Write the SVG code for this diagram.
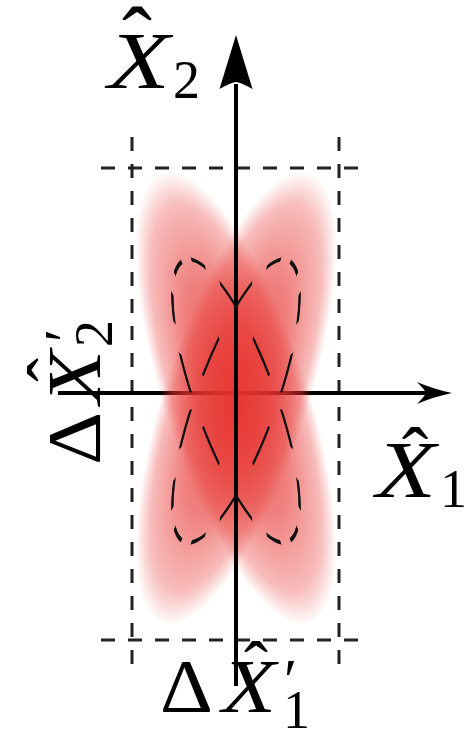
<svg xmlns="http://www.w3.org/2000/svg" width="466" height="735" viewBox="0 0 466 735">
<defs>
<style>
.ax{stroke:#000;stroke-width:4;fill:none}
.axh{fill:#000;stroke:none}
.box{stroke:#222;stroke-width:3;fill:none;stroke-dasharray:14 13}
.lbl{font-family:"Liberation Serif","DejaVu Serif",serif;fill:#000}
.it{font-style:italic}
.dl{fill:none;stroke:#111}
</style>
<radialGradient id="redg" cx="0.5" cy="0.5" r="0.5">
<stop offset="0" stop-color="#e6302c" stop-opacity="0.82"/>
<stop offset="0.5" stop-color="#e6302c" stop-opacity="0.62"/>
<stop offset="0.85" stop-color="#e6302c" stop-opacity="0.32"/>
<stop offset="1" stop-color="#e6302c" stop-opacity="0"/>
</radialGradient>
<mask id="dm" maskUnits="userSpaceOnUse" x="0" y="0" width="466" height="735">
<circle r="10" transform="translate(236,401) rotate(-20) scale(4,15)" fill="none" stroke="#fff" stroke-width="1.4" stroke-dasharray="2.793 2.443" stroke-dashoffset="3.665"/>
</mask>
</defs>
<rect width="466" height="735" fill="#fff"/>
<g id="box">
<line class="box" x1="132" y1="137" x2="132" y2="667"/>
<line class="box" x1="339" y1="137" x2="339" y2="667"/>
<line class="box" x1="101" y1="168" x2="369" y2="168"/>
<line class="box" x1="101" y1="640" x2="369" y2="640"/>
</g>
<g id="connectors">
<g id="axis-x1">
<line class="ax" x1="58" y1="393" x2="428" y2="393"/>
<path class="axh" d="M452,393 Q433,389 417,382 Q425,390 426,393 Q425,396 417,404 Q433,397 452,393 Z"/>
</g>
</g>
<g id="state">
<ellipse cx="0" cy="0" rx="72" ry="238" transform="translate(236,398) rotate(-18)" fill="url(#redg)"/>
<ellipse cx="0" cy="0" rx="72" ry="238" transform="translate(236,398) rotate(18)" fill="url(#redg)"/>
</g>
<g id="axis-x2">
<line class="ax" x1="236" y1="686" x2="236" y2="84"/>
<path class="axh" d="M236,35 L252.5,89 Q240,82 236,82 Q232,82 219.5,89 Z"/>
</g>
<g id="dashed-ellipses">
<g id="de1" mask="url(#dm)">
<ellipse class="dl" cx="0" cy="0" rx="40" ry="150" stroke-width="2.2" transform="translate(236,401) rotate(-20)"/>
<circle class="dl" r="10" stroke-width="0.3" transform="translate(236,401) rotate(-20) scale(4,15)"/>
</g>
<use href="#de1" transform="matrix(-1 0 0 1 472 0)"/>
</g>
<g id="label-x2">
<text class="lbl it" x="108" y="88" font-size="80" textLength="62" lengthAdjust="spacingAndGlyphs">X</text>
<text class="lbl" x="137" y="70" font-size="90" text-anchor="middle">ˆ</text>
<text class="lbl" x="173" y="98" font-size="54">2</text>
</g>
<g id="label-x1">
<text class="lbl it" x="376" y="497" font-size="80" textLength="60" lengthAdjust="spacingAndGlyphs">X</text>
<text class="lbl" x="415" y="483" font-size="80" text-anchor="middle">ˆ</text>
<text class="lbl" x="440" y="507" font-size="54">1</text>
</g>
<g id="label-dx1">
<text class="lbl" x="160" y="712" font-size="76" textLength="53" lengthAdjust="spacingAndGlyphs">Δ</text>
<text class="lbl it" x="222" y="712" font-size="76" textLength="54" lengthAdjust="spacingAndGlyphs">X</text>
<text class="lbl" x="256" y="691" font-size="72" text-anchor="middle">ˆ</text>
<text class="lbl" x="284" y="700" font-size="60">′</text>
<text class="lbl" x="283" y="728" font-size="54">1</text>
</g>
<g id="label-dx2" transform="rotate(-90)">
<text class="lbl" x="-465" y="100" font-size="76" textLength="53" lengthAdjust="spacingAndGlyphs">Δ</text>
<text class="lbl it" x="-404" y="100" font-size="76" textLength="54" lengthAdjust="spacingAndGlyphs">X</text>
<text class="lbl" x="-370" y="77" font-size="72" text-anchor="middle">ˆ</text>
<text class="lbl" x="-342" y="85" font-size="60">′</text>
<text class="lbl" x="-347" y="112" font-size="54">2</text>
</g>
</svg>
